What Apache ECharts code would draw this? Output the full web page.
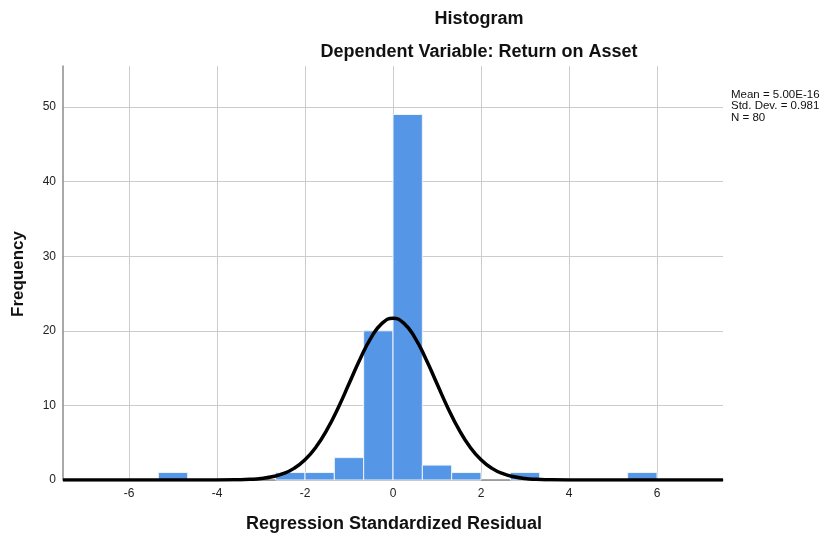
<!DOCTYPE html>
<html>
<head>
<meta charset="utf-8">
<script src="https://cdn.jsdelivr.net/npm/echarts@6/dist/echarts.min.js"></script>
<style>
html,body{margin:0;padding:0;background:#fff;}
#chart{width:824px;height:535px;}
</style>
</head>
<body>
<div id="chart"></div>
<script>
// Histogram bins (left edge, right edge) and frequencies
const binStart = [-5.333, -2.667, -2.0, -1.333, -0.667, 0.0, 0.667, 1.333, 2.667, 5.333];
const binEnd   = [-4.667, -2.0, -1.333, -0.667, 0.0, 0.667, 1.333, 2.0, 3.333, 6.0];
const counts   = [1, 1, 1, 3, 20, 49, 2, 1, 1, 1];

// Normal curve
const curveX = [-7.5, -4, -3.5, -3.25, -3, -2.75, -2.5, -2.25, -2, -1.75, -1.5, -1.25, -1, -0.75, -0.5, -0.25, 0,
                0.25, 0.5, 0.75, 1, 1.25, 1.5, 1.75, 2, 2.25, 2.5, 2.75, 3, 3.25, 3.5, 4, 7.5];
const curveY = [0, 0.005, 0.04, 0.09, 0.2, 0.43, 0.84, 1.56, 2.72, 4.42, 6.74, 9.63, 12.9, 16.19, 19.05, 21.0, 21.69,
                21.0, 19.05, 16.19, 12.9, 9.63, 6.74, 4.42, 2.72, 1.56, 0.84, 0.43, 0.2, 0.09, 0.04, 0.005, 0];

// Axis tick labels
const xTicks = [-6, -4, -2, 0, 2, 4, 6];
const yTicks = [0, 10, 20, 30, 40, 50];

const titleText = 'Histogram';
const subtitleText = 'Dependent Variable: Return on Asset';
const xTitle = 'Regression Standardized Residual';
const yTitle = 'Frequency';
const statsLines = ['Mean = 5.00E-16', 'Std. Dev. = 0.981', 'N = 80'];

const FONT = '"Liberation Sans", Arial, sans-serif';

const chart = echarts.init(document.getElementById('chart'), null, {renderer: 'canvas'});

const barData = binStart.map((s, i) => [s, binEnd[i], counts[i]]);
const lineData = curveX.map((x, i) => [x, curveY[i]]);

const option = {
  backgroundColor: '#ffffff',
  animation: false,
  grid: {left: 63, right: 101, top: 66, bottom: 55, containLabel: false},
  xAxis: {
    type: 'value',
    min: -7.5,
    max: 7.5,
    axisLine: {show: true, onZero: false, lineStyle: {color: '#8c8c8c', width: 1.5}},
    axisTick: {show: false, customValues: xTicks},
    axisLabel: {
      customValues: xTicks,
      color: '#222', fontFamily: FONT, fontSize: 12, margin: 8,
      formatter: v => String(v)
    },
    splitLine: {show: true, lineStyle: {color: '#cccccc', width: 1}}
  },
  yAxis: {
    type: 'value',
    min: 0,
    max: 55.5,
    interval: 10,
    axisLine: {show: true, onZero: false, lineStyle: {color: '#8c8c8c', width: 1.5}},
    axisTick: {show: false},
    axisLabel: {
      color: '#222', fontFamily: FONT, fontSize: 12, margin: 7,
      showMaxLabel: false,
      formatter: v => (yTicks.indexOf(v) >= 0 ? String(v) : '')
    },
    splitLine: {show: true, showMaxLine: false, lineStyle: {color: '#cccccc', width: 1}}
  },
  series: [
    {
      type: 'custom',
      z: 2,
      data: barData,
      encode: {x: [0, 1], y: 2},
      renderItem: function (params, api) {
        const x0 = api.value(0), x1 = api.value(1), c = api.value(2);
        const p0 = api.coord([x0, c]);
        const p1 = api.coord([x1, 0]);
        return {
          type: 'rect',
          shape: {x: p0[0], y: p0[1], width: p1[0] - p0[0], height: p1[1] - p0[1]},
          style: {fill: '#5596e6', stroke: '#eef3fb', lineWidth: 1}
        };
      }
    },
    {
      type: 'line',
      z: 5,
      data: lineData,
      smooth: 0.5,
      symbol: 'none',
      lineStyle: {color: '#000', width: 3.5}
    }
  ],
  graphic: [
    {type: 'text', x: 479, y: 19, z: 10, style: {text: titleText, font: 'bold 18px ' + FONT, fill: '#111', align: 'center', verticalAlign: 'middle'}},
    {type: 'text', x: 479, y: 52, z: 10, style: {text: subtitleText, font: 'bold 18px ' + FONT, fill: '#111', align: 'center', verticalAlign: 'middle'}},
    {type: 'text', x: 394, y: 524, z: 10, style: {text: xTitle, font: 'bold 18px ' + FONT, fill: '#111', align: 'center', verticalAlign: 'middle'}},
    {type: 'text', x: 18, y: 274, rotation: Math.PI / 2, z: 10, style: {text: yTitle, font: 'bold 17px ' + FONT, fill: '#111', align: 'center', verticalAlign: 'middle'}},
    {type: 'text', x: 731, y: 89, z: 10, style: {text: statsLines.join('\n'), font: '11.5px ' + FONT, lineHeight: 11.5, fill: '#111', align: 'left', verticalAlign: 'top'}}
  ]
};

chart.setOption(option);
</script>
</body>
</html>
